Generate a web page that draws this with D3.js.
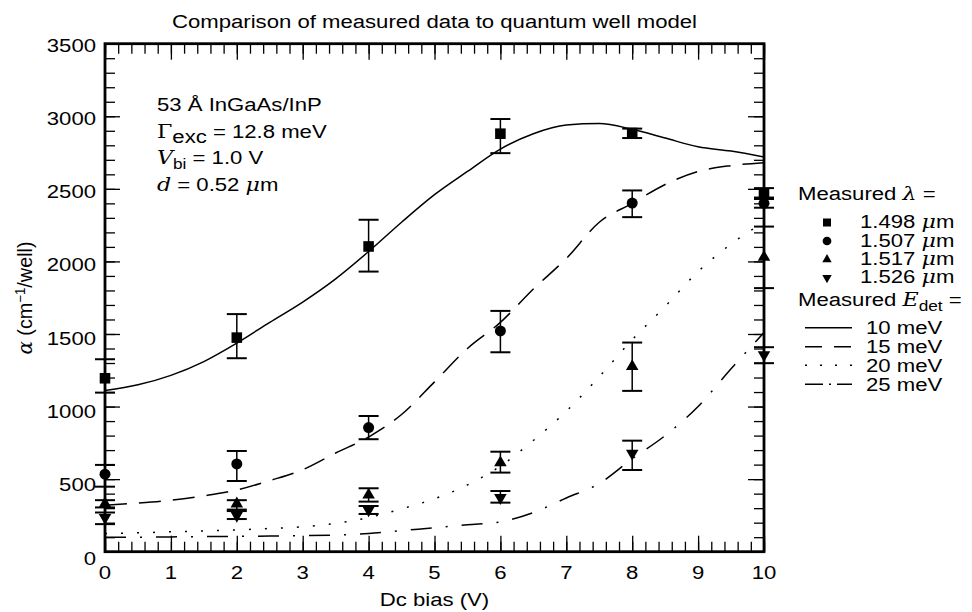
<!DOCTYPE html>
<html><head><meta charset="utf-8">
<script src="https://cdn.jsdelivr.net/npm/d3@7"></script>
<style>
body{margin:0;background:#fff}
svg{display:block}
text{font-family:"Liberation Sans",Arial,Helvetica,sans-serif;fill:#000;font-size:18px}
</style>
</head><body>
<svg id="chart" width="972" height="612"></svg>
<script>
// ---------- data ----------
const biasPts = [0, 2, 4, 6, 8, 10];
const sqVal = [1195, 1475, 2103, 2880, 2885, 2466];
const sqLo  = [1096, 1333, 1930, 2746, 2850, 2430];
const sqHi  = [1326, 1637, 2287, 2981, 2915, 2505];
const ciVal = [534, 605, 855, 1521, 2402, 2400];
const ciLo  = [448, 487, 775, 1374, 2305, 2370];
const ciHi  = [598, 694, 935, 1659, 2489, 2440];
const tuVal = [330, 330, 391, 613, 1276, 2029];
const tuLo  = [305, 290, 345, 545, 1108, 1816];
const tuHi  = [355, 355, 437, 689, 1441, 2240];
const tdVal = [235, 250, 288, 372, 678, 1356];
const tdLo  = [190, 225, 260, 338, 563, 1299];
const tdHi  = [270, 280, 315, 418, 765, 1409];

const modelBias = [0, 0.5, 1, 1.5, 2, 2.5, 3, 3.5, 4, 4.5, 5, 5.5, 6, 6.5, 7, 7.5, 8, 8.5, 9, 9.5, 10];
const model10 = [1110, 1150, 1215, 1310, 1437, 1580, 1720, 1880, 2068, 2270, 2460, 2620, 2774, 2880, 2940, 2950, 2910, 2850, 2790, 2760, 2720];
const model15 = [320, 335, 355, 385, 425, 490, 565, 680, 790, 945, 1170, 1400, 1580, 1810, 2020, 2270, 2400, 2530, 2620, 2660, 2680];
const model20 = [125, 130, 137, 143, 150, 160, 172, 195, 235, 295, 365, 460, 590, 766, 968, 1206, 1460, 1690, 1930, 2120, 2270];
const model25 = [100, 100, 102, 104, 106, 108, 111, 115, 125, 145, 165, 185, 205, 270, 370, 470, 640, 800, 1000, 1260, 1510];

const xTickVals = [0, 1, 2, 3, 4, 5, 6, 7, 8, 9, 10];
const yTickVals = [0, 500, 1000, 1500, 2000, 2500, 3000, 3500];
const wavelengths = ["1.498", "1.507", "1.517", "1.526"];
const energies = ["10 meV", "15 meV", "20 meV", "25 meV"];

// ---------- setup ----------
const SX = 1.23; // horizontal text stretch of the original figure
const svg = d3.select("#chart");
const x = d3.scaleLinear().domain([0, 10]).range([105, 764]);
const y = d3.scaleLinear().domain([0, 3500]).range([551.7, 43.7]);
const yLab = d3.scaleLinear().domain([0, 3500]).range([558, 45]);

function txt(px, py, anchor) {
  return svg.append("text")
    .attr("transform", `translate(${px},${py}) scale(${SX},1)`)
    .attr("text-anchor", anchor || "start");
}

// ---------- ticks ----------
const minorX = d3.range(0, 50.5).map(i => i / 5);
const minorY = d3.range(0, 35.5).map(i => i * 100);
function drawAxis(axis, tx, ty) {
  const g = svg.append("g").attr("transform", `translate(${tx},${ty})`).call(axis);
  g.select(".domain").remove();
  g.selectAll("text").remove();
  g.selectAll("line").attr("stroke", "#000").attr("stroke-width", 1.3);
}
drawAxis(d3.axisBottom(x).tickValues(minorX).tickSize(-10).tickFormat(""), 0, y(0));
drawAxis(d3.axisBottom(x).tickValues(xTickVals).tickSize(-16).tickFormat(""), 0, y(0));
drawAxis(d3.axisTop(x).tickValues(minorX).tickSize(-10).tickFormat(""), 0, y(3500));
drawAxis(d3.axisTop(x).tickValues(xTickVals).tickSize(-16).tickFormat(""), 0, y(3500));
drawAxis(d3.axisLeft(y).tickValues(minorY).tickSize(-10).tickFormat(""), x(0), 0);
drawAxis(d3.axisLeft(y).tickValues(yTickVals).tickSize(-15).tickFormat(""), x(0), 0);
drawAxis(d3.axisRight(y).tickValues(minorY).tickSize(-10).tickFormat(""), x(10), 0);
drawAxis(d3.axisRight(y).tickValues(yTickVals).tickSize(-16).tickFormat(""), x(10), 0);

svg.append("rect")
  .attr("x", x(0)).attr("y", y(3500))
  .attr("width", x(10) - x(0)).attr("height", y(0) - y(3500))
  .attr("fill", "none").attr("stroke", "#000").attr("stroke-width", 2.8);

// tick labels
xTickVals.forEach(v => txt(x(v), 578.5, "middle").text(v));
yTickVals.forEach(v => txt(96, yLab(v) + 6.5, "end").text(v));

// ---------- model curves ----------
const line = d3.line().x(d => x(d[0])).y(d => y(d[1])).curve(d3.curveMonotoneX);
const curves = [
  {vals: model10, dash: null, ldash: null},
  {vals: model15, dash: "22,12", ldash: "17,12"},
  {vals: model20, dash: "2,14", ldash: "2,13"},
  {vals: model25, dash: "21,14,2,14", ldash: "18,6,2,6"}
];
curves.forEach(c => {
  svg.append("path")
    .datum(modelBias.map((b, i) => [b, c.vals[i]]))
    .attr("d", line)
    .attr("fill", "none").attr("stroke", "#000").attr("stroke-width", 1.5)
    .attr("stroke-dasharray", c.dash);
});

// ---------- measured data ----------
const symTri = d3.symbol().type(d3.symbolTriangle);
const series = [
  {vals: sqVal, lo: sqLo, hi: sqHi, sym: d3.symbol().type(d3.symbolSquare).size(112)(), rot: 0, lsym: d3.symbol().type(d3.symbolSquare).size(64)()},
  {vals: ciVal, lo: ciLo, hi: ciHi, sym: d3.symbol().type(d3.symbolCircle).size(95)(), rot: 0, lsym: d3.symbol().type(d3.symbolCircle).size(60)()},
  {vals: tuVal, lo: tuLo, hi: tuHi, sym: symTri.size(68)(), rot: 0, lsym: symTri.size(38)()},
  {vals: tdVal, lo: tdLo, hi: tdHi, sym: symTri.size(68)(), rot: 180, lsym: symTri.size(38)()}
];
series.forEach(s => {
  const g = svg.append("g");
  biasPts.forEach((b, i) => {
    const cx = x(b);
    g.append("line").attr("x1", cx).attr("x2", cx).attr("y1", y(s.lo[i])).attr("y2", y(s.hi[i]))
      .attr("stroke", "#000").attr("stroke-width", 1.5);
    [s.lo[i], s.hi[i]].forEach(v => {
      g.append("line").attr("x1", cx - 10).attr("x2", cx + 10).attr("y1", y(v)).attr("y2", y(v))
        .attr("stroke", "#000").attr("stroke-width", 2);
    });
    g.append("path").attr("d", s.sym)
      .attr("transform", `translate(${cx},${y(s.vals[i])}) rotate(${s.rot})`)
      .attr("fill", "#000");
  });
});

// ---------- title & axis titles ----------
txt(434.5, 28, "middle").text("Comparison of measured data to quantum well model");
txt(434.5, 606, "middle").text("Dc bias (V)");
const yt = svg.append("text")
  .attr("transform", `translate(32,298) rotate(-90) scale(1.1,1.15)`)
  .attr("text-anchor", "middle");
yt.append("tspan").attr("font-style", "italic").attr("font-family", "DejaVu Serif, serif").text("α");
yt.append("tspan").text(" (cm");
yt.append("tspan").attr("dy", -6).attr("font-size", 12).text("−1");
yt.append("tspan").attr("dy", 6).text("/well)");

// ---------- annotation ----------
txt(157, 111).text("53 Å InGaAs/InP");
const a2 = txt(157, 137.5);
a2.append("tspan").attr("font-family", "DejaVu Serif, serif").text("Γ");
a2.append("tspan").attr("dy", 5).text("exc");
a2.append("tspan").attr("dy", -5).text(" = 12.8 meV");
const a3 = txt(157, 164);
a3.append("tspan").attr("font-style", "italic").attr("font-family", "DejaVu Serif, serif").text("V");
a3.append("tspan").attr("dy", 5).attr("font-size", 14).text("bi");
a3.append("tspan").attr("dy", -5).text(" = 1.0 V");
const a4 = txt(157, 190.5);
a4.append("tspan").attr("font-style", "italic").attr("font-family", "DejaVu Serif, serif").text("d");
a4.append("tspan").text(" = 0.52 ");
a4.append("tspan").attr("font-style", "italic").attr("font-family", "DejaVu Serif, serif").text("μ");
a4.append("tspan").text("m");

// ---------- legend ----------
const l1 = txt(798, 200);
l1.append("tspan").text("Measured ");
l1.append("tspan").attr("font-style", "italic").attr("font-family", "DejaVu Serif, serif").text("λ");
l1.append("tspan").text(" =");
const legY = [228, 246.5, 265, 283.3];
wavelengths.forEach((w, i) => {
  svg.append("path").attr("d", series[i].lsym)
    .attr("transform", `translate(827,${legY[i] - 5.5}) rotate(${series[i].rot})`)
    .attr("fill", "#000");
  const t = txt(860, legY[i]);
  t.append("tspan").text(w + " ");
  t.append("tspan").attr("font-style", "italic").attr("font-family", "DejaVu Serif, serif").text("μ");
  t.append("tspan").text("m");
});
const l2 = txt(798, 306);
l2.append("tspan").text("Measured ");
l2.append("tspan").attr("font-style", "italic").attr("font-family", "DejaVu Serif, serif").text("E");
l2.append("tspan").attr("dy", 5).attr("font-size", 14).text("det");
l2.append("tspan").attr("dy", -5).text(" =");
const lineY = [334.3, 353.3, 371.7, 390.7];
energies.forEach((e, i) => {
  svg.append("line").attr("x1", 805).attr("x2", 852)
    .attr("y1", lineY[i] - 6.5).attr("y2", lineY[i] - 6.5)
    .attr("stroke", "#000").attr("stroke-width", 1.5)
    .attr("stroke-dasharray", curves[i].ldash);
  txt(866, lineY[i]).text(e);
});
</script>
</body></html>
